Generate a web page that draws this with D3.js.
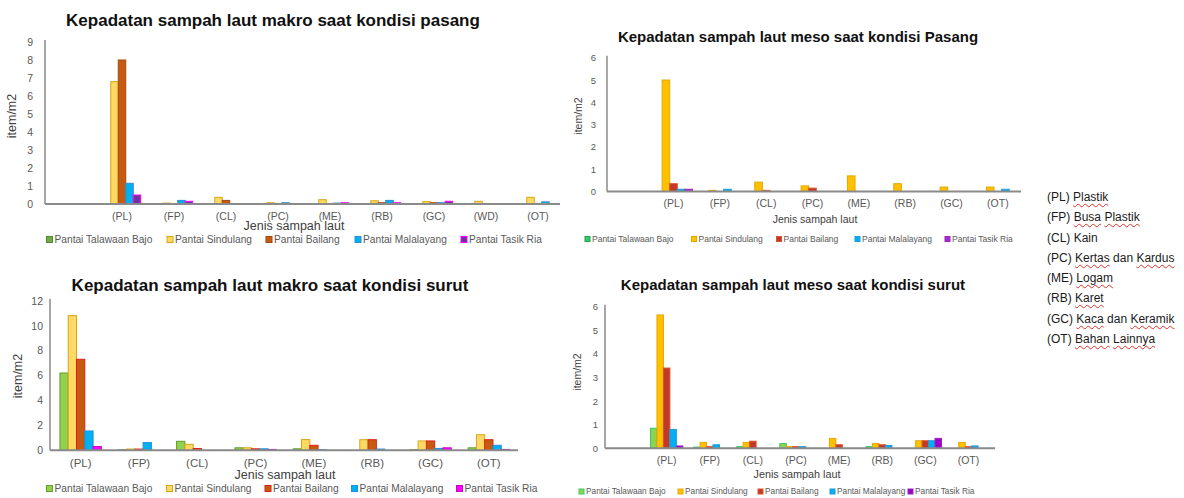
<!DOCTYPE html>
<html>
<head>
<meta charset="utf-8">
<script src="https://cdn.jsdelivr.net/npm/d3@7"></script>
<style>
  html, body { margin: 0; padding: 0; background: #fff; }
  #wrap { position: relative; width: 1184px; height: 498px; overflow: hidden; }
  svg { position: absolute; left: 0; top: 0; }
  #side { position: absolute; left: 1047px; top: 187px; font-family: "Liberation Sans", Arial, sans-serif; font-size: 12px; color: #1a1a1a; line-height: 20.3px; white-space: nowrap; }
  #side .sq { text-decoration: underline wavy #e0302a; text-decoration-thickness: 1px; text-underline-offset: 2px; }
</style>
</head>
<body>
<div id="wrap">
<svg id="chart" width="1184" height="498"></svg>
<div id="side"></div>
</div>
<script>
// ---------------- DATA ----------------
const seriesNames = ["Pantai Talawaan Bajo", "Pantai Sindulang", "Pantai Bailang", "Pantai Malalayang", "Pantai Tasik Ria"];

// Makro - pasang
const catsMakroPasang = ["", "(PL)", "(FP)", "(CL)", "(PC)", "(ME)", "(RB)", "(GC)", "(WD)", "(OT)"];
const mpTalawaan   = [0, 0,    0,    0,    0,    0,    0,    0,    0,    0];
const mpSindulang  = [0, 6.8,  0.05, 0.37, 0.07, 0.24, 0.18, 0.13, 0.15, 0.37];
const mpBailang    = [0, 8.0,  0,    0.2,  0,    0,    0.07, 0.07, 0,    0];
const mpMalalayang = [0, 1.15, 0.2,  0,    0.07, 0.05, 0.2,  0.07, 0,    0.12];
const mpTasikRia   = [0, 0.5,  0.15, 0,    0,    0.07, 0.07, 0.15, 0,    0];
const ticksMakroPasang = [0, 1, 2, 3, 4, 5, 6, 7, 8, 9];

// Meso - pasang
const catsMesoPasang = ["", "(PL)", "(FP)", "(CL)", "(PC)", "(ME)", "(RB)", "(GC)", "(OT)"];
const msTalawaan   = [0, 0,    0,    0,    0,    0,    0,    0,    0];
const msSindulang  = [0, 5.0,  0.05, 0.42, 0.25, 0.7,  0.35, 0.2,  0.2];
const msBailang    = [0, 0.35, 0,    0.05, 0.15, 0,    0,    0,    0];
const msMalalayang = [0, 0.1,  0.1,  0,    0,    0,    0,    0,    0.1];
const msTasikRia   = [0, 0.1,  0,    0,    0,    0,    0,    0,    0];
const ticksMesoPasang = [0, 1, 2, 3, 4, 5, 6];

// Makro - surut
const catsMakroSurut = ["(PL)", "(FP)", "(CL)", "(PC)", "(ME)", "(RB)", "(GC)", "(OT)"];
const mkTalawaan   = [6.2,  0.05, 0.72, 0.2,  0.12, 0,    0.05, 0.2];
const mkSindulang  = [10.8, 0.1,  0.48, 0.2,  0.86, 0.85, 0.75, 1.25];
const mkBailang    = [7.3,  0.1,  0.14, 0.12, 0.4,  0.85, 0.75, 0.85];
const mkMalalayang = [1.55, 0.62, 0,    0.12, 0.05, 0.1,  0.15, 0.4];
const mkTasikRia   = [0.3,  0,    0,    0.07, 0,    0,    0.2,  0.07];
const ticksMakroSurut = [0, 2, 4, 6, 8, 10, 12];

// Meso - surut
const catsMesoSurut = ["", "(PL)", "(FP)", "(CL)", "(PC)", "(ME)", "(RB)", "(GC)", "(OT)"];
const msuTalawaan   = [0, 0.85, 0.05, 0.07, 0.2,  0,    0.07, 0,    0];
const msuSindulang  = [0, 5.65, 0.25, 0.25, 0.07, 0.42, 0.2,  0.32, 0.25];
const msuBailang    = [0, 3.4,  0.07, 0.3,  0.07, 0.15, 0.15, 0.32, 0.07];
const msuMalalayang = [0, 0.8,  0.15, 0,    0.07, 0,    0.12, 0.32, 0.1];
const msuTasikRia   = [0, 0.1,  0,    0,    0,    0,    0,    0.42, 0];
const ticksMesoSurut = [0, 1, 2, 3, 4, 5, 6];

const sideCodes = ["(PL)", "(FP)", "(CL)", "(PC)", "(ME)", "(RB)", "(GC)", "(OT)"];
const sideNames = [["Plastik"], ["Busa", "Plastik"], ["Kain"], ["Kertas", "dan", "Kardus"], ["Logam"], ["Karet"], ["Kaca", "dan", "Keramik"], ["Bahan", "Lainnya"]];
const sideUnderlined = ["Plastik", "Busa", "Kertas", "Kardus", "Logam", "Karet", "Kaca", "Keramik", "Bahan", "Lainnya"];

// ---------------- DRAW ----------------
const svg = d3.select("#chart");
svg.append("rect").attr("width", 1184).attr("height", 498).attr("fill", "#fff");
const FONT = "'Liberation Sans', Arial, sans-serif";

function drawChart(cfg) {
  const g = svg.append("g");
  const x0 = d3.scaleBand().domain(cfg.cats).range(cfg.xr).paddingInner(cfg.pad).paddingOuter(cfg.pad / 2);
  const x1 = d3.scaleBand().domain(seriesNames).range([0, x0.bandwidth()]);
  const y = d3.scaleLinear().domain([0, cfg.ticks[cfg.ticks.length - 1]]).range(cfg.yr);

  // y tick labels (no tick lines)
  const yAxis = d3.axisLeft(y).tickValues(cfg.ticks).tickSize(0).tickPadding(0).tickFormat(d3.format("d"));
  const ya = g.append("g").attr("transform", `translate(${cfg.yLabX},0)`).call(yAxis);
  ya.select(".domain").remove();
  ya.selectAll("text").attr("font-family", FONT).attr("font-size", cfg.tickFs).attr("fill", "#595959");

  // bars
  cfg.values.forEach((vals, si) => {
    const name = seriesNames[si];
    g.append("g").selectAll("rect")
      .data(vals.map((v, i) => ({ c: cfg.cats[i], v })).filter(d => d.v > 0))
      .join("rect")
      .attr("x", d => x0(d.c) + x1(name))
      .attr("y", d => y(d.v))
      .attr("width", x1.bandwidth())
      .attr("height", d => y(0) - y(d.v))
      .attr("fill", cfg.fills[si])
      .attr("stroke", cfg.strokes[si])
      .attr("stroke-width", 1);
  });

  // axes lines
  g.append("line").attr("x1", cfg.yAxisX).attr("x2", cfg.yAxisX).attr("y1", cfg.yr[1] - 2).attr("y2", y(0))
    .attr("stroke", "#8a8a8a").attr("stroke-width", 1.5);
  g.append("line").attr("x1", cfg.yAxisX).attr("x2", cfg.xLineEnd).attr("y1", y(0)).attr("y2", y(0))
    .attr("stroke", "#8a8a8a").attr("stroke-width", 2);

  // x tick labels
  const xAxis = d3.axisBottom(x0).tickSize(0).tickPadding(0);
  const xa = g.append("g").attr("transform", `translate(0,${cfg.xLabY})`).call(xAxis);
  xa.select(".domain").remove();
  xa.selectAll("text").attr("font-family", FONT).attr("font-size", cfg.xTickFs).attr("fill", "#595959").attr("dy", "0.35em");

  // title
  g.append("text").attr("x", cfg.titleX).attr("y", cfg.titleY).attr("text-anchor", "middle")
    .attr("font-family", FONT).attr("font-weight", "bold").attr("font-size", cfg.titleFs).attr("fill", "#111")
    .text(cfg.title);
  // axis titles
  g.append("text").attr("x", cfg.xTitleX).attr("y", cfg.xTitleY).attr("text-anchor", "middle").attr("dy", "0.35em")
    .attr("font-family", FONT).attr("font-size", cfg.xTitleFs).attr("fill", "#404040").text("Jenis sampah laut");
  g.append("text").attr("transform", `translate(${cfg.yTitleX},${cfg.yTitleY}) rotate(-90)`).attr("text-anchor", "middle").attr("dy", "0.35em")
    .attr("font-family", FONT).attr("font-size", cfg.yTitleFs).attr("fill", "#404040").text("item/m2");

  // legend
  seriesNames.forEach((name, si) => {
    const lx = cfg.legX[si];
    g.append("rect").attr("x", lx).attr("y", cfg.legY - cfg.legSq / 2).attr("width", cfg.legSq).attr("height", cfg.legSq)
      .attr("fill", cfg.fills[si]).attr("stroke", cfg.strokes[si]).attr("stroke-width", 1);
    g.append("text").attr("x", lx + cfg.legSq + 2).attr("y", cfg.legY).attr("dy", "0.35em")
      .attr("font-family", FONT).attr("font-size", cfg.legFs).attr("fill", "#595959").text(name);
  });
}

// Chart 1: makro pasang
drawChart({
  cats: catsMakroPasang, values: [mpTalawaan, mpSindulang, mpBailang, mpMalalayang, mpTasikRia], ticks: ticksMakroPasang,
  xr: [44, 564], pad: 0.28, yr: [204, 42], yAxisX: 45, xLineEnd: 560, yLabX: 33, tickFs: 10.5, xLabY: 216, xTickFs: 10.5,
  fills: ["#70AD47", "#FFD966", "#C55A11", "#00B0F0", "#7030A0"],
  strokes: ["#4E8A2E", "#D9A514", "#A8470C", "#2E8BD6", "#FF00FF"],
  title: "Kepadatan sampah laut makro saat kondisi pasang", titleX: 273, titleY: 26, titleFs: 17,
  xTitleX: 294, xTitleY: 226, xTitleFs: 12.5, yTitleX: 12, yTitleY: 116, yTitleFs: 12.5,
  legX: [46.5, 167, 266, 355, 461], legY: 239.5, legSq: 6, legFs: 10.2
});

// Chart 2: meso pasang
drawChart({
  cats: catsMesoPasang, values: [msTalawaan, msSindulang, msBailang, msMalalayang, msTasikRia], ticks: ticksMesoPasang,
  xr: [604, 1021], pad: 0.18, yr: [191.5, 57.7], yAxisX: 607, xLineEnd: 1021, yLabX: 596, tickFs: 9.5, xLabY: 203.5, xTickFs: 10.5,
  fills: ["#33CC66", "#FFC000", "#C0392B", "#00B0F0", "#9933CC"],
  strokes: ["#22A050", "#E6A800", "#E0502A", "#1E9AE0", "#A020C0"],
  title: "Kepadatan sampah laut meso saat kondisi Pasang", titleX: 798, titleY: 42, titleFs: 15,
  xTitleX: 815, xTitleY: 219, xTitleFs: 10.5, yTitleX: 578, yTitleY: 116, yTitleFs: 10.5,
  legX: [585, 691.5, 776.5, 855, 945], legY: 239, legSq: 5, legFs: 8.5
});

// Chart 3: makro surut
drawChart({
  cats: catsMakroSurut, values: [mkTalawaan, mkSindulang, mkBailang, mkMalalayang, mkTasikRia], ticks: ticksMakroSurut,
  xr: [51.5, 518], pad: 0.29, yr: [450.3, 300.7], yAxisX: 50, xLineEnd: 518, yLabX: 43, tickFs: 10.5, xLabY: 463, xTickFs: 11.5,
  fills: ["#92D050", "#FFD966", "#C55A11", "#00B0F0", "#FF00FF"],
  strokes: ["#5E9E2A", "#D9A514", "#E0201A", "#1E8FE0", "#CC00CC"],
  title: "Kepadatan sampah laut makro saat kondisi surut", titleX: 270, titleY: 291, titleFs: 17,
  xTitleX: 285, xTitleY: 475, xTitleFs: 12.5, yTitleX: 18, yTitleY: 376, yTitleFs: 12.5,
  legX: [46.5, 166.5, 265, 351.5, 456.5], legY: 488.5, legSq: 6, legFs: 10.2
});

// Chart 4: meso surut
drawChart({
  cats: catsMesoSurut, values: [msuTalawaan, msuSindulang, msuBailang, msuMalalayang, msuTasikRia], ticks: ticksMesoSurut,
  xr: [602, 990], pad: 0.25, yr: [448.3, 306.7], yAxisX: 605, xLineEnd: 995, yLabX: 598, tickFs: 9.5, xLabY: 460.5, xTickFs: 10.5,
  fills: ["#92D050", "#FFC000", "#C0392B", "#00B0F0", "#9900CC"],
  strokes: ["#33CC66", "#E6A800", "#E0502A", "#1E9AE0", "#A020C0"],
  title: "Kepadatan sampah laut meso saat kondisi surut", titleX: 793, titleY: 290, titleFs: 15,
  xTitleX: 797, xTitleY: 474, xTitleFs: 10.8, yTitleX: 577, yTitleY: 372, yTitleFs: 10.5,
  legX: [579, 678, 758, 830, 908], legY: 491.5, legSq: 5, legFs: 8.3
});

// side list of category descriptions
const side = d3.select("#side");
sideCodes.forEach((code, i) => {
  const row = side.append("div");
  row.append("span").text(code + " ");
  sideNames[i].forEach((w, wi) => {
    row.append("span").attr("class", sideUnderlined.includes(w) ? "sq" : null).text(w);
    if (wi < sideNames[i].length - 1) row.append("span").text(" ");
  });
});
</script>
</body>
</html>
